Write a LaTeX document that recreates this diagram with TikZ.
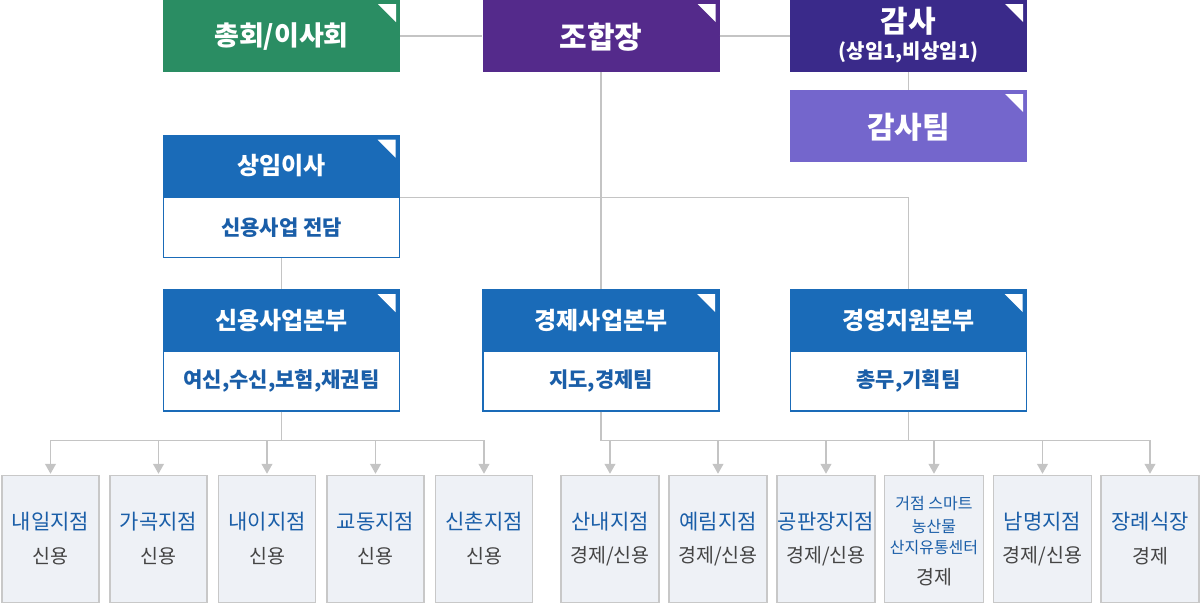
\documentclass[tikz,border=0pt]{standalone}
\usepackage{fontspec}
\setmainfont{Noto Sans CJK KR}
\usetikzlibrary{arrows.meta,calc}
\definecolor{cgreen}{RGB}{42,141,99}
\definecolor{cpurple}{RGB}{84,42,139}
\definecolor{cdark}{RGB}{58,42,138}
\definecolor{clav}{RGB}{116,102,204}
\definecolor{cblue}{RGB}{26,107,184}
\definecolor{ctxtblue}{RGB}{26,94,168}
\definecolor{cfill}{RGB}{238,241,246}
\definecolor{cborder}{RGB}{200,200,200}
\definecolor{cgraytxt}{RGB}{68,68,68}
\definecolor{cline}{RGB}{196,196,196}
\tikzset{
  corner/.style={path picture={\fill[white] ([xshift=-22pt,yshift=-4pt]path picture bounding box.north east) -- ++(18pt,0) -- ++(0,-18pt) -- cycle;}},
  topbox/.style={corner, minimum width=237pt, minimum height=72pt, inner sep=0pt},
  toptext/.style={text=white, inner sep=0pt, font=\bfseries\fontsize{30}{34}\selectfont},
  headbox/.style={corner, fill=cblue, draw=cblue, line width=1.2pt, minimum width=236pt, minimum height=61pt, inner sep=0pt, text=white, font=\bfseries\fontsize{24}{28}\selectfont},
  bodybox/.style={fill=white, draw=cblue, line width=1.2pt, minimum width=236pt, minimum height=60pt, inner sep=0pt, text=ctxtblue, font=\bfseries\fontsize{21}{24}\selectfont},
  leafbox/.style={fill=cfill, draw=cborder, line width=1.5pt, minimum width=97pt, minimum height=127pt, inner sep=0pt},
  leafname/.style={text=ctxtblue, font=\fontsize{21}{24}\selectfont, inner sep=0pt},
  leafsub/.style={text=cgraytxt, font=\fontsize{19.5}{22}\selectfont, inner sep=0pt},
  leafsmall/.style={text=ctxtblue, font=\fontsize{16}{18}\selectfont, inner sep=0pt},
  conn/.style={draw=cline, line width=1.2pt},
  arr/.style={conn, -{Triangle[width=11pt,length=10pt]}},
}
\begin{document}
\begin{tikzpicture}[x=1pt,y=-1pt]
\useasboundingbox (0,0) rectangle (1200,606);
% top row
\node[topbox, fill=cgreen] (chong) at (281.5,36) {};
\node[toptext, font=\bfseries\fontsize{27}{32}\selectfont] (chongt) at (281.5,37) {총회/이사회};
\node[topbox, fill=cpurple] (jo) at (601,36) {};
\node[toptext] (jot) at (601,37) {조합장};
\node[topbox, fill=cdark] (gamsa) at (908.5,36) {};
\node[toptext] (gamsat) at (908.5,21) {감사};
\node[toptext, font=\bfseries\fontsize{20}{24}\selectfont] (gamsas) at (908.5,52) {(상임1,비상임1)};
\node[topbox, fill=clav] (gteam) at (908.5,126) {};
\node[toptext] (gteamt) at (908.5,127) {감사팀};
% middle blocks
\node[headbox] (sangH) at (281.5,166) {상임이사};
\node[bodybox] (sangB) at (281.5,227.5) {신용사업 전담};
\node[headbox] (sinH) at (281.5,320.5) {신용사업본부};
\node[bodybox] (sinB) at (281.5,381) {여신,수신,보험,채권팀};
\node[headbox] (gjH) at (601,320.5) {경제사업본부};
\node[bodybox] (gjB) at (601,381) {지도,경제팀};
\node[headbox] (gyH) at (908.5,320.5) {경영지원본부};
\node[bodybox] (gyB) at (908.5,381) {총무,기획팀};
% leaf boxes left
\foreach \n/\x/\a/\b in {l1/50.5/내일지점/신용, l2/158.5/가곡지점/신용, l3/267/내이지점/신용, l4/375.5/교동지점/신용, l5/484/신촌지점/신용}{
  \node[leafbox] (\n) at (\x,539) {};
  \node[leafname] (\n a) at (\x,522) {\a};
  \node[leafsub] (\n b) at (\x,556) {\b};
}
% leaf boxes right
\foreach \n/\x/\a/\b in {r1/610/산내지점/{경제/신용}, r2/718/예림지점/{경제/신용}, r3/826/공판장지점/{경제/신용}, r5/1042.5/남명지점/{경제/신용}, r6/1150/장례식장/경제}{
  \node[leafbox, minimum width=98pt] (\n) at (\x,539) {};
  \node[leafname] (\n a) at (\x,522) {\a};
  \node[leafsub] (\n b) at (\x,556) {\b};
}
\node[leafbox, minimum width=99pt] (r4) at (934,539) {};
\node[leafsmall] (r4a) at (934,503) {거점 스마트};
\node[leafsmall] (r4b) at (934,526) {농산물};
\node[leafsmall] (r4c) at (934,548) {산지유통센터};
\node[leafsub] (r4d) at (934,577) {경제};
% connectors
\draw[conn] (chong.east) -- (jo.west);
\draw[conn] (jo.east) -- (gamsa.west);
\draw[conn] (gamsa.south) -- (gteam.north);
\draw[conn] (jo.south) -- (gjH.north);
\draw[conn] (sangH.south east) -| (gyH.north);
\draw[conn] (sangB.south) -- (sinH.north);
\coordinate (busL) at ($(sinB.south)+(0,29)$);
\coordinate (busR) at ($(gjB.south)+(0,29)$);
\coordinate (busR2) at ($(gyB.south)+(0,29)$);
\draw[conn] (sinB.south) -- (busL);
\draw[conn] (gjB.south) -- (busR);
\draw[conn] (gyB.south) -- (busR2);
\foreach \n in {l1,l2,l3,l4,l5}{ \draw[arr] (busL) -| ($(\n.north)+(0,-1)$); }
\foreach \n in {r1,r2,r3,r4,r5,r6}{ \draw[arr] (busR) -| ($(\n.north)+(0,-1)$); }
\end{tikzpicture}
\end{document}
